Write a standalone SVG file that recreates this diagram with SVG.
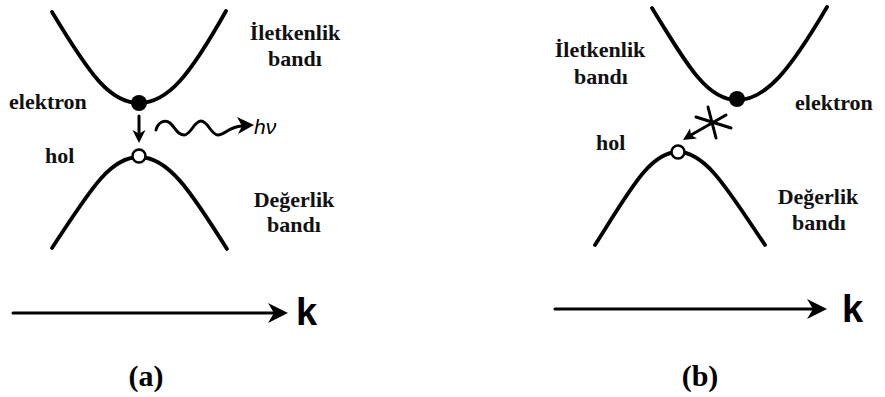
<svg xmlns="http://www.w3.org/2000/svg" width="885" height="397" viewBox="0 0 885 397">
<style>
.band{fill:none;stroke:#000;stroke-width:3.8;stroke-linecap:round}
.ln{fill:none;stroke:#000;stroke-width:3;stroke-linecap:round}
.lbl{font-family:"Liberation Serif","Times New Roman",serif;font-weight:bold;font-size:22px;fill:#111}
.k{font-family:"Liberation Sans",Arial,sans-serif;font-weight:bold;font-size:38px;fill:#000}
.cap{font-family:"Liberation Serif","Times New Roman",serif;font-weight:bold;font-size:30px;fill:#000}
.hv{font-family:"Liberation Sans",Arial,sans-serif;font-style:italic;font-size:21px;fill:#000}
.e{fill:#000}
.h{fill:#fff;stroke:#000;stroke-width:2.5}
</style>
<rect width="885" height="397" fill="#fff"/>
<g id="panel-a">
  <g id="a-conduction"><path class="band" d="M52,12 C90,75 110,103 139,103 C168,103 190,75 226,11"/></g>
  <g id="a-valence"><path class="band" d="M52,248 C90,190 110,157 139,157 C168,157 190,190 227,249"/></g>
  <g id="a-electron"><circle class="e" cx="139" cy="103" r="8"/></g>
  <g id="a-hole"><circle class="h" cx="139" cy="156" r="6.5"/></g>
  <g id="a-labels">
    <text class="lbl" x="295" y="40" text-anchor="middle">İletkenlik</text>
    <text class="lbl" x="295" y="66" text-anchor="middle">bandı</text>
    <text class="lbl" x="294" y="207" text-anchor="middle">Değerlik</text>
    <text class="lbl" x="294" y="232" text-anchor="middle">bandı</text>
    <text class="lbl" x="9" y="109">elektron</text>
    <text class="lbl" x="45" y="163">hol</text>
    <text class="hv" x="254" y="134">hν</text>
  </g>
  <g id="a-axis-label"><text class="k" x="296" y="325">k</text></g>
  <g id="a-caption"><text class="cap" x="146" y="386" text-anchor="middle">(a)</text></g>
</g>
<g id="panel-b">
  <g id="b-conduction"><path class="band" d="M652,8 C690,70 708,100 737,100 C766,100 790,70 827,7"/></g>
  <g id="b-valence"><path class="band" d="M595,245 C630,190 650,152 678,152 C706,152 728,190 765,245"/></g>
  <g id="b-electron"><circle class="e" cx="737" cy="99" r="8"/></g>
  <g id="b-hole"><circle class="h" cx="678" cy="152" r="6.5"/></g>
  <g id="b-labels">
    <text class="lbl" x="600" y="57" text-anchor="middle">İletkenlik</text>
    <text class="lbl" x="601" y="84" text-anchor="middle">bandı</text>
    <text class="lbl" x="596" y="150">hol</text>
    <text class="lbl" x="795" y="110">elektron</text>
    <text class="lbl" x="818" y="204" text-anchor="middle">Değerlik</text>
    <text class="lbl" x="819" y="230" text-anchor="middle">bandı</text>
  </g>
  <g id="b-axis-label"><text class="k" x="842" y="322">k</text></g>
  <g id="b-caption"><text class="cap" x="700" y="386" text-anchor="middle">(b)</text></g>
</g>
<g id="connectors">
  <line class="ln" x1="139" y1="116" x2="139" y2="132"/>
  <polygon points="139,143 132.5,130 139,133.5 145.5,130" fill="#000"/>
  <path class="ln" stroke-width="3.5" d="M156,130 C158,122 165,119 170,123 C175,127 177,135 184,135 C191,135 194,121 201,121 C208,121 211,135 218,135 C225,135 228,127 242,126"/>
  <polygon points="254,125 237,117 242,126 238,134" fill="#000"/>
  <line class="ln" x1="726" y1="115" x2="691" y2="135"/>
  <polygon points="683,140 690,128.5 691,135 697,138.5" fill="#000"/>
  <line class="ln" x1="708" y1="107" x2="716" y2="138" stroke-width="2.5"/>
  <line class="ln" x1="696" y1="117" x2="731" y2="128" stroke-width="2.5"/>
  <line class="ln" x1="13" y1="313" x2="276" y2="313" stroke-width="3.8"/>
  <polygon points="288,313 268,303 274,313 268,323" fill="#000"/>
  <line class="ln" x1="555" y1="309" x2="815" y2="309" stroke-width="3.8"/>
  <polygon points="827,309 807,299 813,309 807,319" fill="#000"/>
</g>
</svg>
